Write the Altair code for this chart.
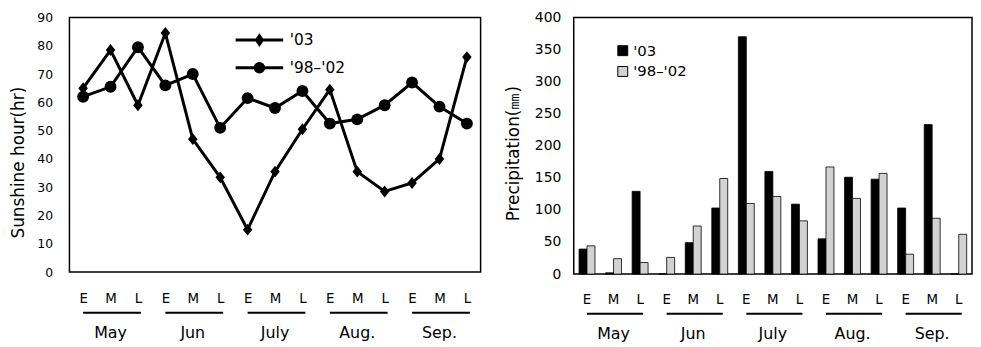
import altair as alt
import pandas as pd

# ---------------- data ----------------
months = ["May", "Jun", "July", "Aug.", "Sep."]
thirds = ["E", "M", "L"]
series_names = ["'03", "'98–'02"]

sunshine_03 = [65, 78.5, 59, 84.5, 47, 33.5, 15, 35.5, 50.5, 64.5, 35.5, 28.5, 31.5, 40, 76]
sunshine_9802 = [62, 65.5, 79.5, 66, 70, 51, 61.5, 58, 64, 52.5, 54, 59, 67, 58.5, 52.5]

precip_03 = [39, 2, 129, 0, 49, 103, 370, 160, 109, 55, 151, 148, 103, 233, 0]
precip_9802 = [44, 24, 18, 26, 75, 149, 110, 121, 83, 167, 118, 157, 31, 87, 62]

sun_ticks = list(range(0, 91, 10))
pre_ticks = list(range(0, 401, 50))

# ---------------- tables ----------------
periods = [f"{m}_{t}" for m in months for t in thirds]

sun_df = pd.DataFrame({
    "period": periods * 2,
    "series": [series_names[0]] * 15 + [series_names[1]] * 15,
    "value": sunshine_03 + sunshine_9802,
})
pre_df = pd.DataFrame({
    "period": periods * 2,
    "series": [series_names[0]] * 15 + [series_names[1]] * 15,
    "value": precip_03 + precip_9802,
})
month_df = pd.DataFrame({
    "month": months,
    "first": [f"{m}_{thirds[0]}" for m in months],
    "mid": [f"{m}_{thirds[1]}" for m in months],
    "last": [f"{m}_{thirds[2]}" for m in months],
})

FONT = "DejaVu Sans"
LABEL_EXPR = "slice(datum.value, -1)"

# marker shapes (unit-box SVG paths)
DIAMOND = "M0,-1L0.8,0L0,1L-0.8,0Z"
CIRCLE = "circle"
# legend symbols: a line segment through a (stroke-filled) marker
LEG_DIAMOND = ("M-4,0H4"
               "M0,-0.72L0.5,0L0,0.72L-0.5,0Z"
               "M0,-0.36L0.25,0L0,0.36L-0.25,0Z"
               "M0,-0.72V0.72")
LEG_CIRCLE = ("M-4,0H4"
              "M-0.72,0A0.72,0.72,0,1,1,0.72,0A0.72,0.72,0,1,1,-0.72,0Z"
              "M-0.38,0A0.38,0.38,0,1,1,0.38,0A0.38,0.38,0,1,1,-0.38,0Z"
              "M-0.08,0A0.08,0.08,0,1,1,0.08,0A0.08,0.08,0,1,1,-0.08,0Z"
              "M0,-0.72V0.72")

# ---------------- left: sunshine ----------------
W1, H1 = 415, 257
xs1 = alt.Scale(type="point", domain=periods, padding=0.5)
ys1 = alt.Scale(domain=[0, 90])

x_axis1 = alt.Axis(title=None, labelExpr=LABEL_EXPR, labelAngle=0, ticks=False, tickSize=0,
                   domain=False, labelPadding=20, labelFont=FONT, labelFontSize=13.5,
                   labelColor="black")
y_axis1 = alt.Axis(title="Sunshine hour(hr)", values=sun_ticks, ticks=False, tickSize=0,
                   domain=False, grid=False, labelPadding=17, labelFont=FONT,
                   labelFontSize=12.5, labelColor="black", titleFont=FONT, titleFontSize=17,
                   titleFontWeight="normal", titleColor="black", titleAngle=270,
                   titleBaseline="middle", titleX=-51.5, titleY=146)

base1 = alt.Chart(sun_df).encode(
    x=alt.X("period:N", scale=xs1, axis=x_axis1, sort=periods),
    y=alt.Y("value:Q", scale=ys1, axis=y_axis1),
)
lines1 = base1.mark_line(color="black", strokeWidth=3).encode(detail="series:N")
points1 = base1.mark_point(filled=True, color="black", opacity=1, size=144).encode(
    shape=alt.Shape("series:N", scale=alt.Scale(domain=series_names, range=[DIAMOND, CIRCLE]),
                    legend=None)
)
legend1 = base1.mark_point(filled=False, color="black", opacity=0, strokeWidth=3).encode(
    shape=alt.Shape("series:N",
                    scale=alt.Scale(domain=series_names, range=[LEG_DIAMOND, LEG_CIRCLE]),
                    legend=alt.Legend(title=None, orient="none", legendX=184, legendY=15,
                                      symbolSize=144, symbolStrokeWidth=3,
                                      symbolStrokeColor="black",
                                      symbolOpacity=1, labelOffset=23, rowPadding=6,
                                      padding=0, labelFont=FONT, labelFontSize=15.5,
                                      labelColor="black"))
)
under1 = alt.Chart(month_df).mark_rule(color="black", strokeWidth=2, x2Offset=3).encode(
    x=alt.X("first:N", scale=xs1, axis=x_axis1),
    x2="last:N",
    y=alt.value(H1 + 41),
)
mtext1 = alt.Chart(month_df).mark_text(font=FONT, fontSize=16, color="black").encode(
    x=alt.X("mid:N", scale=xs1, axis=x_axis1),
    y=alt.value(H1 + 62),
    text="month:N",
)
left = alt.layer(lines1, points1, legend1, under1, mtext1).resolve_scale(
    shape="independent").properties(width=W1, height=H1)

# ---------------- right: precipitation ----------------
W2, H2 = 402, 259
xs2 = alt.Scale(domain=periods, paddingInner=0.4, paddingOuter=0.2)
ys2 = alt.Scale(domain=[0, 400])

x_axis2 = alt.Axis(title=None, labelExpr=LABEL_EXPR, labelAngle=0, ticks=False, tickSize=0,
                   domain=False, labelPadding=19, labelFont=FONT, labelFontSize=13.5,
                   labelColor="black")
y_axis2 = alt.Axis(title="Precipitation(㎜)", values=pre_ticks, ticks=False, tickSize=0,
                   domain=False, grid=False, labelPadding=13, labelFont=FONT,
                   labelFontSize=14, labelColor="black", titleFont=FONT, titleFontSize=17,
                   titleFontWeight="normal", titleColor="black", titleAngle=270,
                   titleBaseline="middle", titleX=-61, titleY=137)

bars = alt.Chart(pre_df).mark_bar(stroke="black", strokeWidth=0.8).encode(
    x=alt.X("period:N", scale=xs2, axis=x_axis2, sort=periods),
    xOffset=alt.XOffset("series:N", scale=alt.Scale(domain=series_names)),
    y=alt.Y("value:Q", scale=ys2, axis=y_axis2),
    color=alt.Color("series:N",
                    scale=alt.Scale(domain=series_names, range=["black", "#d2d2d2"]),
                    legend=alt.Legend(title=None, orient="none", legendX=42, legendY=26,
                                      symbolType="square", symbolSize=100,
                                      symbolStrokeColor="black", symbolStrokeWidth=1,
                                      labelOffset=3, rowPadding=5, padding=0,
                                      labelFont=FONT, labelFontSize=15, labelColor="black")),
)
under2 = alt.Chart(month_df).mark_rule(color="black", strokeWidth=2, x2Offset=3).encode(
    x=alt.X("first:N", scale=xs2, axis=x_axis2),
    x2="last:N",
    y=alt.value(H2 + 40),
)
mtext2 = alt.Chart(month_df).mark_text(font=FONT, fontSize=16, color="black").encode(
    x=alt.X("mid:N", scale=xs2, axis=x_axis2),
    y=alt.value(H2 + 61),
    text="month:N",
)
right = alt.layer(bars, under2, mtext2).properties(width=W2, height=H2)

chart = alt.hconcat(left, right, spacing=22).resolve_legend(
    color="independent", shape="independent"
).properties(
    padding={"left": 0, "top": 0, "right": 0, "bottom": 0}
).configure_view(stroke="black", strokeWidth=1.5).configure_axis(grid=False)

chart.save("out.html", embed_options={"renderer": "svg", "actions": False})
